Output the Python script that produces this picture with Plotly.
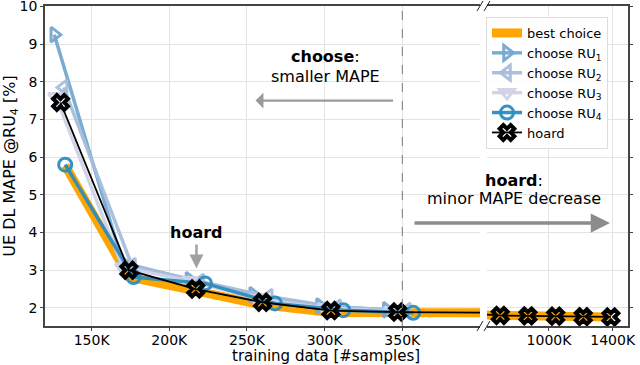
import plotly.graph_objects as go

# ---- data (x in thousands of samples) ----
hoard_x = [130, 174, 217, 260, 304, 347, 694, 868, 1042, 1215, 1389]
hoard_y = [7.45, 3.0, 2.5, 2.15, 1.93, 1.89, 1.80, 1.79, 1.78, 1.77, 1.76]

best_x = [133, 174, 217, 260, 304, 347, 694, 868, 1042, 1215, 1389]
best_y = [5.78, 2.82, 2.45, 2.08, 1.88, 1.86, 1.80, 1.79, 1.78, 1.77, 1.76]

ru1_x = [126, 170, 213, 254, 297, 340]
ru1_y = [9.25, 3.2, 2.75, 2.35, 2.05, 1.95]

ru2_x = [132, 176, 220, 264, 308, 353]
ru2_y = [7.85, 3.12, 2.7, 2.3, 2.02, 1.93]

ru3_x = [127, 170, 213, 256, 300, 343]
ru3_y = [7.6, 3.08, 2.72, 2.25, 2.0, 1.92]

ru4_x = [133, 177, 223, 268, 312, 357]
ru4_y = [5.8, 2.82, 2.65, 2.12, 1.94, 1.87]

left_ticks = [150, 200, 250, 300, 350]
left_ticktext = ["150K", "200K", "250K", "300K", "350K"]
right_ticks = [1000, 1400]
right_ticktext = ["1000K", "1400K"]
y_ticks = [2, 3, 4, 5, 6, 7, 8, 9, 10]

FONT = "DejaVu Sans"
C_BEST = "#ffa500"
C_RU1 = "rgba(116,169,207,0.95)"
C_RU2 = "rgba(166,189,219,0.95)"
C_RU3 = "rgba(208,209,230,0.95)"
C_RU4 = "rgba(43,140,190,0.95)"
AXC = "#444444"
GRID = "#e3e3e3"

fig = go.Figure()

for xa, ya, legend in [("x", "y", True), ("x2", "y2", False)]:
    fig.add_trace(go.Scatter(x=best_x, y=best_y, mode="lines", name="best choice",
                             line=dict(color=C_BEST, width=9), xaxis=xa, yaxis=ya,
                             showlegend=legend))
    if legend:
        for name, xs, ys, col, sym in [
            ("choose RU<sub>1</sub>", ru1_x, ru1_y, C_RU1, "triangle-right-open"),
            ("choose RU<sub>2</sub>", ru2_x, ru2_y, C_RU2, "triangle-left-open"),
            ("choose RU<sub>3</sub>", ru3_x, ru3_y, C_RU3, "triangle-down-open"),
            ("choose RU<sub>4</sub>", ru4_x, ru4_y, C_RU4, "circle-open"),
        ]:
            fig.add_trace(go.Scatter(x=xs, y=ys, mode="lines+markers", name=name,
                                     line=dict(color=col, width=3.5),
                                     marker=dict(symbol=sym, size=13, color=col,
                                                 line=dict(width=3, color=col)),
                                     xaxis=xa, yaxis=ya))
    fig.add_trace(go.Scatter(x=hoard_x, y=hoard_y, mode="lines+markers", name="hoard",
                             line=dict(color="black", width=1.8),
                             marker=dict(symbol="x-open", size=13, color="black",
                                         line=dict(width=4, color="black")),
                             xaxis=xa, yaxis=ya, showlegend=legend))

# geometry helpers (pixel -> paper) for decorations
L, R, T, B = 45, 12, 6, 39
W, H = 640, 365
PW, PH = W - L - R, H - T - B
def px(x):
    return (x - L) / PW
def py(y):
    return 1 - (y - T) / PH

shapes = []
# vertical dashed line at 350K
shapes.append(dict(type="line", xref="x", yref="paper", x0=350, x1=350, y0=0, y1=1,
                   line=dict(color="#7a7a7a", width=1, dash="dash")))
# break marks
for (xa0, xb0) in [(477, 483), (484, 490)]:
    for ytop in [1, 321]:
        shapes.append(dict(type="line", xref="paper", yref="paper",
                           x0=px(xa0), x1=px(xb0), y0=py(ytop + 10), y1=py(ytop),
                           line=dict(color="#222222", width=1)))

txt = dict(size=16, family=FONT, color="black")
annotations = [
    dict(x=300.5, y=8.66, xref="x", yref="y", text="<b>choose</b>:", showarrow=False,
         font=txt, xanchor="center", yanchor="middle"),
    dict(x=300.5, y=8.15, xref="x", yref="y", text="smaller MAPE", showarrow=False,
         font=txt, xanchor="center", yanchor="middle"),
    dict(x=255.5, y=7.5, ax=345, ay=7.5, xref="x", yref="y", axref="x", ayref="y",
         text="", showarrow=True, arrowhead=1, arrowsize=1.2, arrowwidth=2.2,
         arrowcolor="#9a9a9a"),
    dict(x=217.5, y=4.0, xref="x", yref="y", text="<b>hoard</b>", showarrow=False,
         font=txt, xanchor="center", yanchor="middle"),
    dict(x=217.5, y=3.05, ax=217.5, ay=3.72, xref="x", yref="y", axref="x", ayref="y",
         text="", showarrow=True, arrowhead=2, arrowsize=1.1, arrowwidth=2.5,
         arrowcolor="#a0a0a0"),
    dict(x=px(514), y=py(180), xref="paper", yref="paper", text="<b>hoard</b>:",
         showarrow=False, font=txt, xanchor="center", yanchor="middle"),
    dict(x=px(514), y=py(198), xref="paper", yref="paper", text="minor MAPE decrease",
         showarrow=False, font=txt, xanchor="center", yanchor="middle"),
    dict(x=px(610), y=py(223), ax=-197, ay=0, xref="paper", yref="paper",
         text="", showarrow=True, arrowhead=2, arrowsize=1.1, arrowwidth=3.5,
         arrowcolor="#8c8c8c"),
    dict(x=px(326), y=py(366), xref="paper", yref="paper",
         text="training data [#samples]", showarrow=False, borderpad=0,
         font=dict(size=15, family=FONT, color="black"),
         xanchor="center", yanchor="bottom"),
]

axis_common = dict(showgrid=True, gridcolor=GRID, gridwidth=1, zeroline=False,
                   showline=True, linecolor=AXC, linewidth=1.5, ticks="outside",
                   ticklen=3, tickcolor=AXC, automargin=False,
                   ticklabeloverflow="allow",
                   tickfont=dict(size=14, family=FONT, color="black"))

fig.update_layout(
    width=W, height=H,
    margin=dict(l=L, r=R, t=T, b=B),
    paper_bgcolor="white", plot_bgcolor="white",
    font=dict(family=FONT, size=14, color="black"),
    xaxis=dict(domain=[0, px(480)], range=[120, 400], tickvals=left_ticks,
               ticktext=left_ticktext, mirror=True, anchor="y",
               ticklabelstandoff=-3, **axis_common),
    xaxis2=dict(domain=[px(487), 1], range=[611, 1496], tickvals=right_ticks,
                ticktext=right_ticktext, mirror=True, anchor="y2",
                ticklabelstandoff=-3, **axis_common),
    yaxis=dict(domain=[0, 1], range=[1.52, 10.01], tickvals=y_ticks, anchor="x",
               title=dict(text="UE DL MAPE @RU<sub>4</sub> [%]", standoff=2,
                          font=txt),
               **axis_common),
    yaxis2=dict(domain=[0, 1], range=[1.52, 10.01], tickvals=y_ticks, anchor="x2",
                side="right", showticklabels=False, **axis_common),
    legend=dict(x=px(486), y=py(17), xanchor="left", yanchor="top",
                bgcolor="rgba(255,255,255,0.85)", bordercolor="#dddddd", borderwidth=1,
                font=dict(size=13, family=FONT, color="black"),
                tracegroupgap=0, itemwidth=30),
    shapes=shapes,
    annotations=annotations,
    showlegend=True,
)

fig.write_html("out.html", config={"displayModeBar": False},
               post_script="document.body.style.margin='0';document.body.style.padding='0';")
